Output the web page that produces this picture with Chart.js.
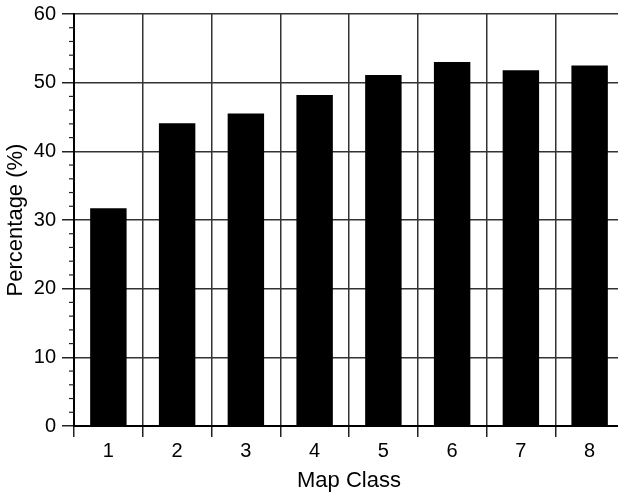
<!DOCTYPE html>
<html>
<head>
<meta charset="utf-8">
<script src="https://cdn.jsdelivr.net/npm/chart.js@4.4.0/dist/chart.umd.min.js"></script>
<style>
  html, body { margin: 0; padding: 0; background: #fff; overflow: hidden; }
  #wrap { width: 628px; height: 494px; }
</style>
</head>
<body>
<div id="wrap"><canvas id="chart"></canvas></div>
<script>
const classes = ['1', '2', '3', '4', '5', '6', '7', '8'];
const percentages = [31.7, 44.1, 45.5, 48.2, 51.1, 53.0, 51.8, 52.5];
const yTicks = [0, 10, 20, 30, 40, 50, 60];
const minorStep = 2;

Chart.defaults.font.family = '"Liberation Sans", Arial, sans-serif';
Chart.defaults.color = '#000';

// short minor ticks on the left of the y axis
const minorTicks = {
  id: 'minorTicks',
  afterDraw(chart) {
    const y = chart.scales.y;
    const ctx = chart.ctx;
    const x0 = chart.chartArea.left;
    ctx.save();
    ctx.strokeStyle = '#222';
    ctx.lineWidth = 1.2;
    for (let v = yTicks[0]; v <= yTicks[yTicks.length - 1]; v += minorStep) {
      if (v % 10 === 0) continue;
      const py = y.getPixelForValue(v);
      ctx.beginPath();
      ctx.moveTo(x0 - 5, py);
      ctx.lineTo(x0, py);
      ctx.stroke();
    }
    ctx.restore();
  }
};

new Chart(document.getElementById('chart'), {
  type: 'bar',
  data: {
    labels: classes,
    datasets: [{
      data: percentages,
      backgroundColor: '#000',
      borderWidth: 0,
      barPercentage: 0.53,
      categoryPercentage: 1.0
    }]
  },
  options: {
    responsive: true,
    maintainAspectRatio: false,
    animation: false,
    layout: { padding: { top: 14, right: 4, left: 0, bottom: 0 } },
    plugins: { legend: { display: false }, tooltip: { enabled: false } },
    scales: {
      x: {
        offset: true,
        grid: {
          offset: true,
          color: '#333',
          lineWidth: 1.5,
          tickLength: 11,
          tickColor: '#222'
        },
        border: { color: '#000', width: 2 },
        ticks: { font: { size: 20 }, padding: 2 },
        title: { display: true, text: 'Map Class', font: { size: 22 }, padding: { top: 2, bottom: 0 } },
        afterFit(s) { s.height = 68; }
      },
      y: {
        min: 0,
        max: 60,
        afterBuildTicks(s) { s.ticks = yTicks.map(v => ({ value: v })); },
        grid: {
          color: '#333',
          lineWidth: 1.5,
          tickLength: 12,
          tickColor: '#222'
        },
        border: { color: '#000', width: 2 },
        ticks: { font: { size: 20 }, padding: 6 },
        title: { display: true, text: 'Percentage (%)', font: { size: 22 }, padding: { top: 3, bottom: 2 } },
        afterFit(s) { s.width = 74; s.paddingTop = 0; s.paddingBottom = 0; }
      }
    }
  },
  plugins: [minorTicks]
});
</script>
</body>
</html>
